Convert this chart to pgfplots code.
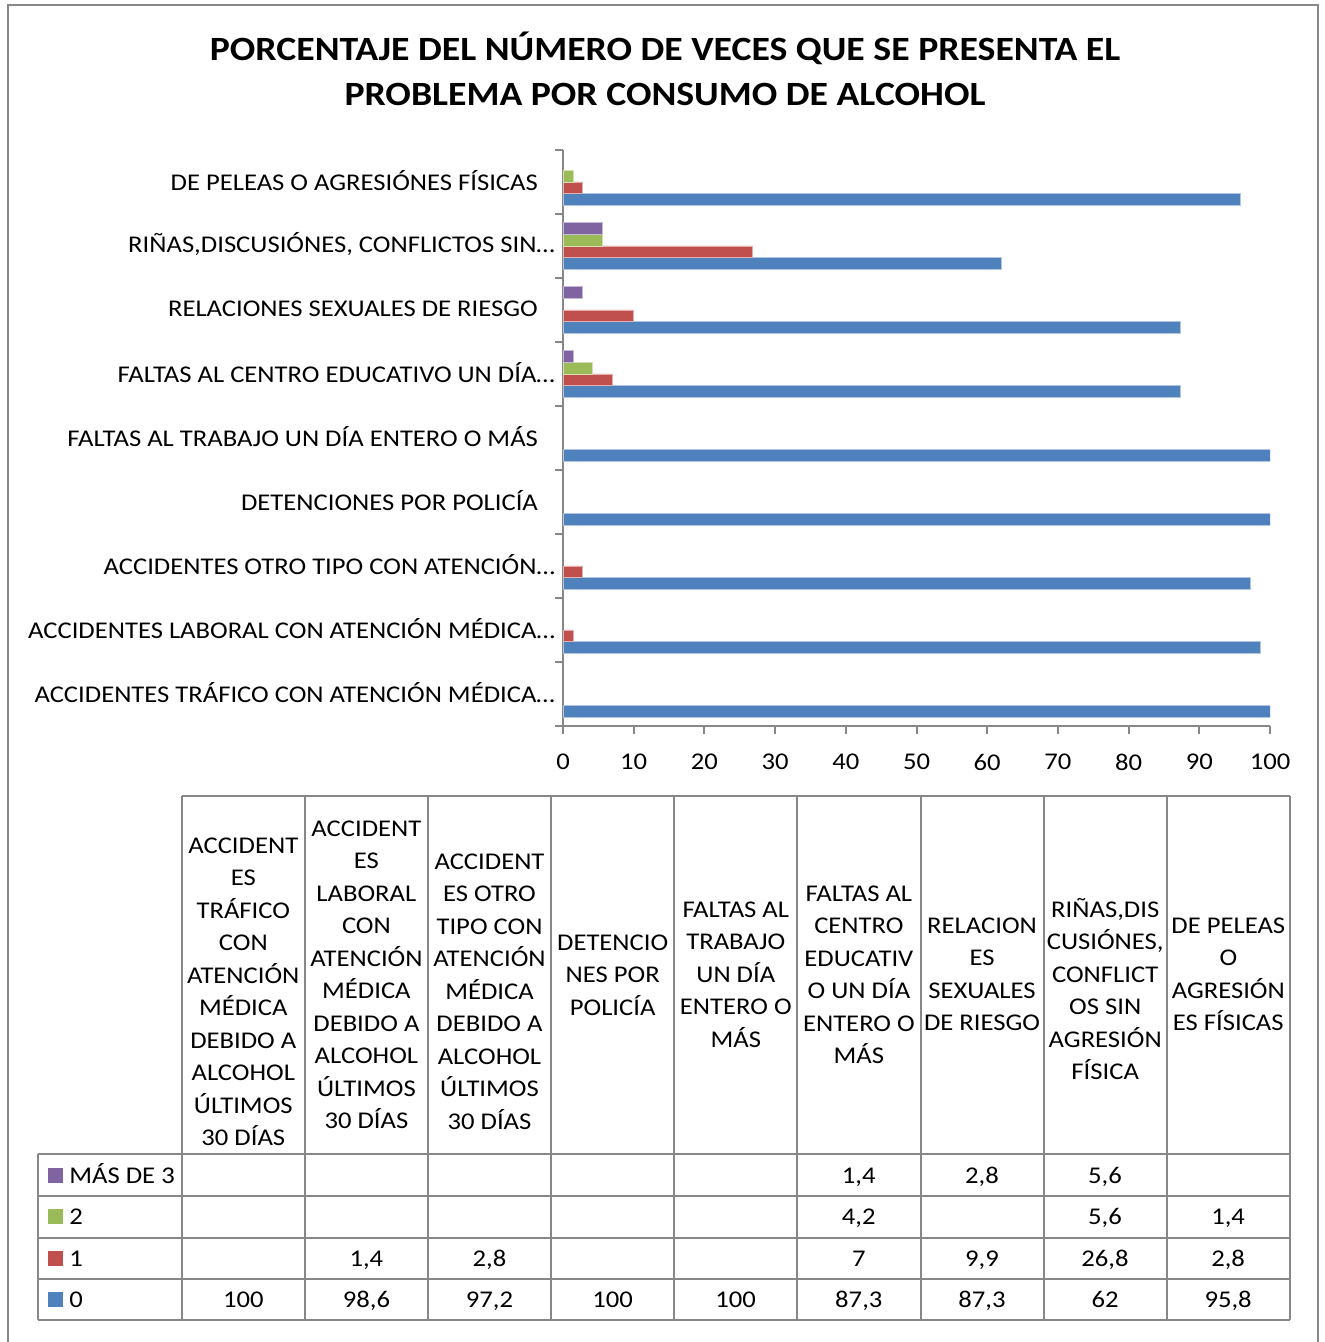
\documentclass[border=0pt]{standalone}
\usepackage{fontspec}
\setmainfont{Carlito}[FakeStretch=1.11]
\usepackage{pgfplots}
\pgfplotsset{compat=1.18}

\definecolor{serA}{HTML}{4F81BD}
\definecolor{serB}{HTML}{C0504D}
\definecolor{serC}{HTML}{9BBB59}
\definecolor{serD}{HTML}{8064A2}
\definecolor{lineg}{HTML}{878787}

\newcommand\tf{\fontsize{12}{14.6}\selectfont}
\newcommand\pad{\rule{8.5pt}{0pt}}
% one header cell, line by line: x centre, first baseline, lines
\newcommand\hdr[3]{\foreach \t [count=\i from 0] in {#3}{\node[anchor=base] at (#1,{#2+32.5*\i}) {\t};}}

\begin{document}
\begin{tikzpicture}
\useasboundingbox (0pt,0pt) rectangle (662pt,-671pt);

\begin{axis}[
  at={(281.5pt,-363pt)}, anchor=south west,
  scale only axis, width=353.5pt, height=288pt,
  xbar, bar width=5.85pt,
  xmin=0, xmax=100, ymin=0.5, ymax=9.5,
  xtick={0,10,...,100},
  ytick={0.5,1.5,...,9.5},
  y tick label as interval,
  yticklabels={
    ACCIDENTES TRÁFICO CON ATENCIÓN MÉDICA…,
    ACCIDENTES LABORAL CON ATENCIÓN MÉDICA…,
    ACCIDENTES OTRO TIPO CON ATENCIÓN…,
    DETENCIONES POR POLICÍA\pad,
    FALTAS AL TRABAJO UN DÍA ENTERO O MÁS\pad,
    FALTAS AL CENTRO EDUCATIVO UN DÍA…,
    RELACIONES SEXUALES DE RIESGO\pad,
    {RIÑAS,DISCUSIÓNES, CONFLICTOS SIN…},
    DE PELEAS O AGRESIÓNES FÍSICAS\pad},
  axis lines=left,
  axis line style={-, lineg, line width=1pt},
  tick align=outside, major tick length=4pt,
  tick style={lineg, line width=1pt},
  tick label style={font=\tf, text=black},
  xticklabel style={yshift=-6.4pt},
  yticklabel style={xshift=3.5pt, yshift=0.8pt},
  /pgf/number format/assume math mode=true,
]
% 0
\addplot[fill=serA, draw=serA!45!white, line width=0.4pt, bar shift=-8.75pt] coordinates {
  (100,1) (98.6,2) (97.2,3) (100,4) (100,5) (87.3,6) (87.3,7) (62,8) (95.8,9)};
% 1
\addplot[fill=serB, draw=serB!45!white, line width=0.4pt, bar shift=-2.92pt] coordinates {
  (1.4,2) (2.8,3) (7,6) (9.9,7) (26.8,8) (2.8,9)};
% 2
\addplot[fill=serC, draw=serC!45!white, line width=0.4pt, bar shift=2.92pt] coordinates {
  (4.2,6) (5.6,8) (1.4,9)};
% mas de 3
\addplot[fill=serD, draw=serD!45!white, line width=0.4pt, bar shift=8.75pt] coordinates {
  (1.4,6) (2.8,7) (5.6,8)};
\end{axis}

\begin{scope}[x=0.5pt, y=-0.5pt, every node/.style={font=\tf, inner sep=0pt}]
  % frame
  \draw[lineg, line width=1pt] (8,1342) -- (8,5) -- (1318,5) -- (1318,1342);
  % title
  \node[anchor=base, font=\fontsize{17}{22}\selectfont\bfseries] at (665,61)
    {PORCENTAJE DEL NÚMERO DE VECES QUE SE PRESENTA EL};
  \node[anchor=base, font=\fontsize{17}{22}\selectfont\bfseries] at (665,106)
    {PROBLEMA POR CONSUMO DE ALCOHOL};

  % data table grid
  \begin{scope}[lineg, line width=1pt]
    \draw (181.7,796) -- (1289.8,796);
    \foreach \x in {181.7,304.8,428.0,551.1,674.2,797.3,920.5,1043.6,1166.7,1289.8}
      \draw (\x,796) -- (\x,1320);
    \foreach \y in {1154,1196,1237.7,1279,1320}
      \draw (38,\y) -- (1289.8,\y);
    \draw (38,1154) -- (38,1320);
  \end{scope}

  % header cells
  \hdr{243.3}{853}{ACCIDENT,ES,TRÁFICO,CON,ATENCIÓN,MÉDICA,DEBIDO A,ALCOHOL,ÚLTIMOS,30 DÍAS}
  \hdr{366.4}{836}{ACCIDENT,ES,LABORAL,CON,ATENCIÓN,MÉDICA,DEBIDO A,ALCOHOL,ÚLTIMOS,30 DÍAS}
  \hdr{489.5}{869}{ACCIDENT,ES OTRO,TIPO CON,ATENCIÓN,MÉDICA,DEBIDO A,ALCOHOL,ÚLTIMOS,30 DÍAS}
  \hdr{612.7}{950}{DETENCIO,NES POR,POLICÍA}
  \hdr{735.8}{917}{FALTAS AL,TRABAJO,UN DÍA,ENTERO O,MÁS}
  \hdr{858.9}{901}{FALTAS AL,CENTRO,EDUCATIV,O UN DÍA,ENTERO O,MÁS}
  \hdr{982.0}{933}{RELACION,ES,SEXUALES,DE RIESGO}
  \hdr{1105.2}{917}{{RIÑAS,DIS},{CUSIÓNES,},CONFLICT,OS SIN,AGRESIÓN,FÍSICA}
  \hdr{1228.3}{933}{DE PELEAS,O,AGRESIÓN,ES FÍSICAS}

  % legend keys
  \fill[serD] (48,1167.5) rectangle (63,1182.5);
  \fill[serC] (48,1209) rectangle (63,1224);
  \fill[serB] (48,1250.5) rectangle (63,1265.5);
  \fill[serA] (48,1292) rectangle (63,1307);
  \node[anchor=base west] at (69,1183) {MÁS DE 3};
  \node[anchor=base west] at (69,1224.5) {2};
  \node[anchor=base west] at (69,1266) {1};
  \node[anchor=base west] at (69,1307.5) {0};

  % values
  \foreach \c/\v in {6/{1,4},7/{2,8},8/{5,6}}
    \node[anchor=base] at ({243.3+123.1*(\c-1)},1183) {\v};
  \foreach \c/\v in {6/{4,2},8/{5,6},9/{1,4}}
    \node[anchor=base] at ({243.3+123.1*(\c-1)},1224.5) {\v};
  \foreach \c/\v in {2/{1,4},3/{2,8},6/7,7/{9,9},8/{26,8},9/{2,8}}
    \node[anchor=base] at ({243.3+123.1*(\c-1)},1266) {\v};
  \foreach \c/\v in {1/100,2/{98,6},3/{97,2},4/100,5/100,6/{87,3},7/{87,3},8/62,9/{95,8}}
    \node[anchor=base] at ({243.3+123.1*(\c-1)},1307.5) {\v};
\end{scope}
\end{tikzpicture}
\end{document}
